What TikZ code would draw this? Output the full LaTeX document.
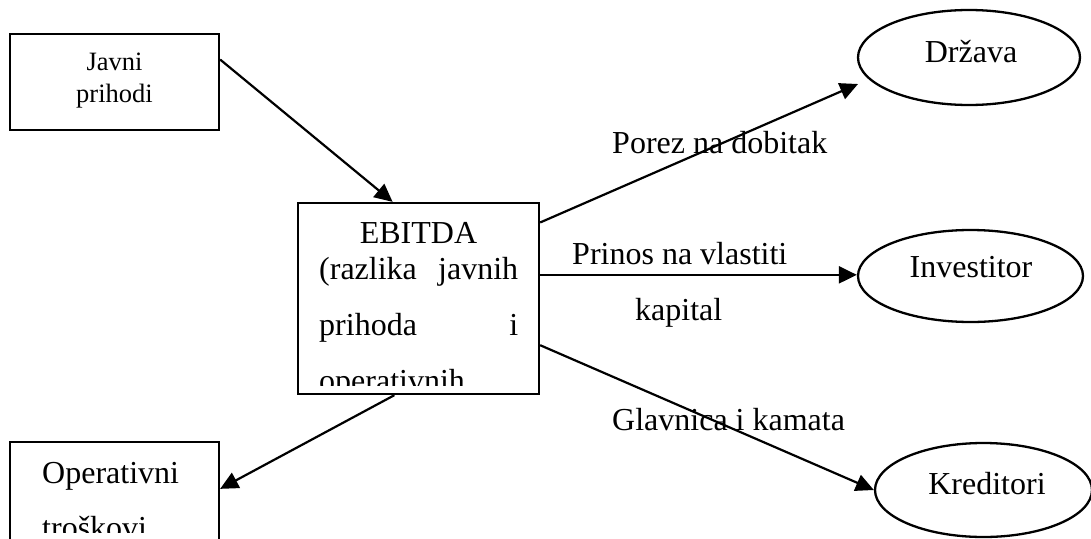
\documentclass[tikz,border=0pt]{standalone}
\usepackage{fontspec}
\setmainfont{Liberation Serif}
\usetikzlibrary{arrows.meta,shapes.geometric,calc}
\begin{document}
\begin{tikzpicture}[x=1pt,y=-1pt,
  boxshape/.style={draw,line width=2.3pt,rectangle,inner sep=0pt},
  oval/.style={draw,ellipse,line width=2.3pt,inner sep=0pt},
  txt/.style={inner sep=0pt,font=\fontsize{32}{38}\selectfont},
  smalltxt/.style={inner sep=0pt,font=\fontsize{26.5}{32}\selectfont},
  conn/.style={line width=2.2pt,-{Triangle[length=18pt,width=17pt]}}]
\clip (0,0) rectangle (1091,538);
% boxes
\node[boxshape,minimum width=209pt,minimum height=96pt] (jp) at (114.5,82) {};
\node[boxshape,minimum width=241pt,minimum height=191pt] (eb) at (418.5,298.5) {};
\node[boxshape,minimum width=209pt,minimum height=118pt] (op) at (114.5,501) {};
% ellipses
\node[oval,minimum width=222pt,minimum height=95pt] (dr) at (969,57.5) {};
\node[oval,minimum width=225pt,minimum height=92pt] (inv) at (970.5,276) {};
\node[oval,minimum width=217pt,minimum height=94pt] (kr) at (983.5,490) {};
% texts in boxes
\node[smalltxt,anchor=base] (jpt1) at (114.5,70) {Javni};
\node[smalltxt,anchor=base] (jpt2) at (114.5,102) {prihodi};
\node[txt,anchor=base] (ebt1) at (418.5,243) {EBITDA};
\node[txt,anchor=base west] (ebt2) at (319,279) {\makebox[199pt][l]{(razlika\hfill javnih}};
\node[txt,anchor=base west] (ebt3) at (319,335) {\makebox[199pt][l]{prihoda\hfill i}};
\begin{scope}
  \clip (298,203) rectangle (539,385);
  \node[txt,anchor=base west] (ebt4) at (319,391) {operativnih};
\end{scope}
\node[txt,anchor=base west] (opt1) at (42,483) {Operativni};
\begin{scope}
  \clip (10,442) rectangle (219,532);
  \node[txt,anchor=base west] (opt2) at (42,538) {troškovi};
\end{scope}
% texts in ellipses
\node[txt,anchor=base] (drt) at (971,62) {Država};
\node[txt,anchor=base] (invt) at (971,277) {Investitor};
\node[txt,anchor=base] (krt) at (987,494) {Kreditori};
% connectors
\coordinate (drtip) at (858,84);
\draw[conn] (jp.12) -- (eb.105);
\draw[conn] (eb.32) -- (drtip);
\draw[conn] (eb.11.5) -- (eb.11.5 -| inv.west);
\draw[conn] (eb.-21.5) -- (kr.west);
\draw[conn] (eb.-104) -- ($(op.north east)+(0,48)$);
% labels
\node[txt,anchor=base west] (l1) at (612,153) {Porez na dobitak};
\node[txt,anchor=base west] (l2) at (572,264) {Prinos na vlastiti};
\node[txt,anchor=base west] (l3) at (635,320) {kapital};
\node[txt,anchor=base west] (l4) at (612,430) {Glavnica i kamata};
\end{tikzpicture}
\end{document}
